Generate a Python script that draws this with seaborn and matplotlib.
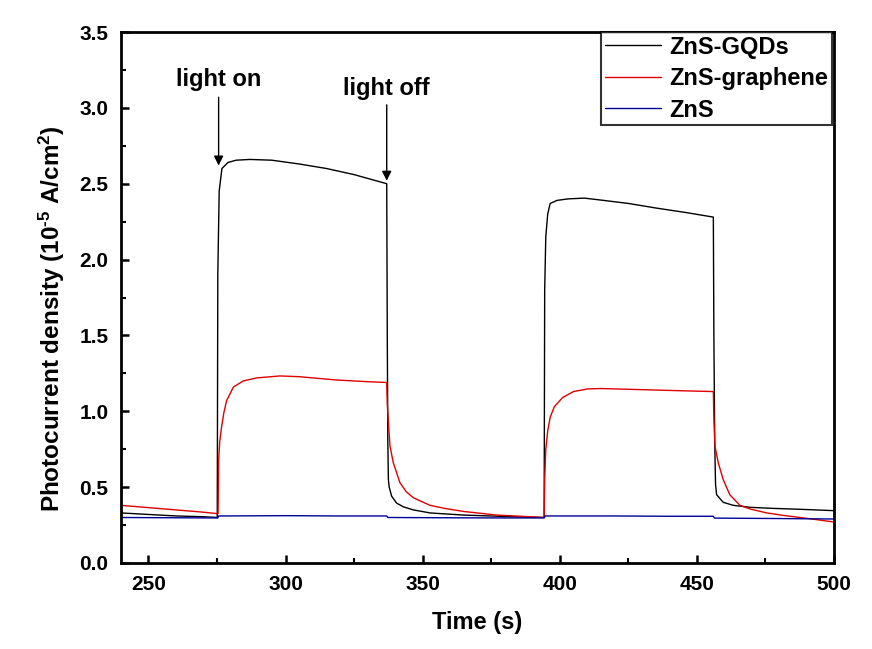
import matplotlib
matplotlib.use("Agg")
import matplotlib.pyplot as plt
from matplotlib.ticker import MultipleLocator
import seaborn as sns
import pandas as pd

# ---- data ----
t_gqd = [240, 250, 260, 270, 275.1, 275.3, 275.8, 276.8, 279, 282, 287, 295, 305, 315, 325,
         336.9, 337.1, 337.3, 337.5, 337.8, 338.7, 340.5, 343, 346.6, 352.7, 364.8, 383,
         394.3, 394.5, 394.9, 395.6, 396.5, 399, 403, 409, 416, 425, 435, 446, 456.0, 456.2,
         456.5, 456.8, 457.2, 459.6, 463.3, 469.4, 477.8, 487.6, 500]
y_gqd = [0.33, 0.32, 0.31, 0.305, 0.30, 1.9, 2.45, 2.60, 2.64, 2.655, 2.66, 2.655, 2.63, 2.60, 2.56,
         2.50, 1.5, 0.80, 0.55, 0.50, 0.44, 0.395, 0.37, 0.35, 0.33, 0.316, 0.305,
         0.30, 1.8, 2.15, 2.30, 2.37, 2.39, 2.40, 2.405, 2.39, 2.37, 2.34, 2.31, 2.28, 1.5,
         0.80, 0.52, 0.45, 0.40, 0.38, 0.367, 0.36, 0.354, 0.345]

t_gr = [240, 250, 260, 270, 275.4, 275.6, 276.0, 276.7, 277.5, 278.5, 281, 284.6, 289.5, 298,
        305, 318.7, 330, 336.9, 337.1, 337.6, 338.1, 339.3, 341.7, 344, 346.6, 352.7, 358,
        364.8, 377, 389, 394.3, 394.5, 394.9, 395.6, 396.5, 398, 401, 405, 410, 415, 425, 435,
        445, 456.0, 456.2, 456.6, 457.8, 459.6, 462, 465.7, 469.4, 475.5, 481, 487.6, 494, 500]
y_gr = [0.38, 0.365, 0.35, 0.335, 0.325, 0.68, 0.80, 0.90, 0.99, 1.07, 1.16, 1.20, 1.22, 1.233,
        1.228, 1.206, 1.195, 1.19, 1.05, 0.90, 0.77, 0.66, 0.53, 0.47, 0.43, 0.38, 0.36,
        0.34, 0.316, 0.305, 0.30, 0.55, 0.75, 0.87, 0.96, 1.03, 1.09, 1.13, 1.147, 1.15, 1.145, 1.14,
        1.135, 1.13, 0.95, 0.77, 0.66, 0.55, 0.45, 0.38, 0.356, 0.33, 0.315, 0.30, 0.285, 0.27]

t_zns = [240, 260, 275.3, 275.6, 300, 320, 336.9, 337.3, 360, 380, 394.3, 394.7, 420, 440,
         456.0, 456.4, 480, 500]
y_zns = [0.30, 0.298, 0.297, 0.31, 0.312, 0.31, 0.31, 0.30, 0.298, 0.297, 0.297, 0.31, 0.31, 0.308,
         0.308, 0.296, 0.293, 0.29]

series_names = ["ZnS-GQDs", "ZnS-graphene", "ZnS"]
series_colors = ["#000000", "#e00000", "#000099"]

annot_text = ["light on", "light off"]
annot_x = [275.6, 336.9]
annot_tip = [2.62, 2.52]
annot_tail = [3.07, 3.02]
annot_text_y = [3.19, 3.13]

xticks = [250, 300, 350, 400, 450, 500]
yticks = [0.0, 0.5, 1.0, 1.5, 2.0, 2.5, 3.0, 3.5]

# ---- build long-form table ----
frames = []
for name, t, y in zip(series_names, [t_gqd, t_gr, t_zns], [y_gqd, y_gr, y_zns]):
    frames.append(pd.DataFrame({"Time": t, "J": y, "Sample": name}))
df = pd.concat(frames, ignore_index=True)

sns.set_theme(style="white")
plt.rcParams["font.family"] = ["Liberation Sans", "DejaVu Sans"]
plt.rcParams["font.weight"] = "bold"
plt.rcParams["text.color"] = "black"
plt.rcParams["axes.labelcolor"] = "black"
plt.rcParams["xtick.color"] = "black"
plt.rcParams["ytick.color"] = "black"
plt.rcParams["mathtext.fontset"] = "custom"
plt.rcParams["mathtext.rm"] = "Liberation Sans:bold"
plt.rcParams["mathtext.default"] = "rm"

fig = plt.figure(figsize=(8.72, 6.49), dpi=100)
ax = fig.add_axes([121 / 872, 1 - 563 / 649, (834 - 121) / 872, (563 - 32) / 649])

sns.lineplot(data=df, x="Time", y="J", hue="Sample", hue_order=series_names,
             palette=dict(zip(series_names, series_colors)), sort=False,
             estimator=None, linewidth=1.0, ax=ax)

ax.set_xlim(240, 500)
ax.set_ylim(0, 3.5)
ax.set_xticks(xticks)
ax.set_yticks(yticks)
ax.set_xticklabels([str(v) for v in xticks])
ax.set_yticklabels([f"{v:.1f}" for v in yticks])
ax.xaxis.set_minor_locator(MultipleLocator(25))
ax.yaxis.set_minor_locator(MultipleLocator(0.25))
ax.tick_params(axis="both", which="major", direction="in", length=6, width=1.8,
               labelsize=15, pad=9, bottom=True, left=True, top=False, right=False,
               colors="black")
ax.tick_params(axis="both", which="minor", direction="in", length=3.5, width=1.5,
               bottom=True, left=True, top=False, right=False)
for lab in ax.get_xticklabels() + ax.get_yticklabels():
    lab.set_fontweight("bold")
for sp in ax.spines.values():
    sp.set_linewidth(2.0)
    sp.set_color("black")

ax.set_xlabel("Time (s)", fontsize=17, fontweight="bold", labelpad=12)
ax.set_ylabel(r"Photocurrent density (10$^{\text{-}5}$ A/cm$^{2}$)", fontsize=17.5,
              fontweight="bold")
ax.yaxis.set_label_coords(-0.0757, 0.461)

for txt, x, tip, tail, ty in zip(annot_text, annot_x, annot_tip, annot_tail, annot_text_y):
    ax.annotate("", xy=(x, tip), xytext=(x, tail),
                arrowprops=dict(arrowstyle="-|>", color="black", lw=1.0,
                                mutation_scale=14, shrinkA=0, shrinkB=0))
    ax.text(x, ty, txt, ha="center", va="center", fontsize=17, fontweight="bold")

leg = ax.legend(loc="upper right", bbox_to_anchor=(0.997, 1.0), borderaxespad=0,
                frameon=True, fancybox=False, fontsize=17, handlelength=2.4,
                labelspacing=0.36, borderpad=0.15, handletextpad=0.35, title=None)
leg.get_frame().set_edgecolor("black")
leg.get_frame().set_linewidth(1.5)
for t in leg.get_texts():
    t.set_fontweight("bold")
    t.set_color("black")

fig.savefig("out.png", dpi=100)
